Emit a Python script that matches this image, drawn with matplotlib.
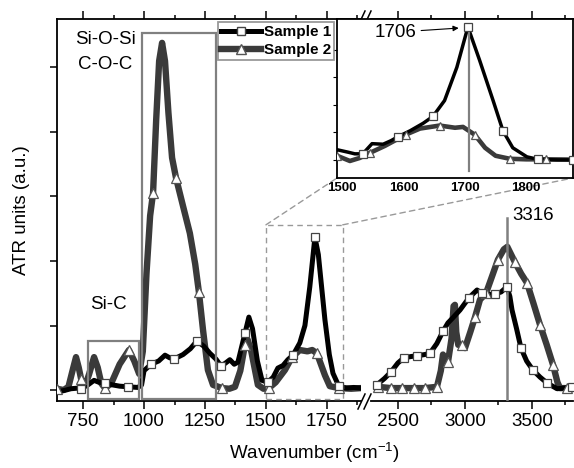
import matplotlib
matplotlib.use("Agg")
import matplotlib.pyplot as plt
from matplotlib.lines import Line2D
from matplotlib.patches import Rectangle, ConnectionPatch

plt.rcParams['font.family'] = ['Liberation Sans', 'DejaVu Sans']
plt.rcParams['mathtext.fontset'] = 'custom'
plt.rcParams['mathtext.rm'] = 'Liberation Sans'
plt.rcParams['axes.unicode_minus'] = False

# ---- data (ATR units, one y tick = 1 unit) ----
# sample 1, low wavenumber part
s1_low_w = [643, 680, 700, 730, 742, 770, 795, 815, 840, 870, 900, 934, 975, 990,
            1000, 1029, 1060, 1086, 1105, 1123, 1160, 1190, 1217, 1245, 1270, 1295,
            1316, 1335, 1352, 1370, 1385, 1414, 1430, 1445, 1465, 1484, 1508, 1530,
            1549, 1570, 1590, 1611, 1639, 1660, 1680, 1701, 1715, 1742, 1760, 1775,
            1799, 1830, 1860, 1890]
s1_low_y = [-0.03, 0.0, 0.02, 0.03, 0.02, 0.08, 0.15, 0.12, 0.11, 0.08, 0.06, 0.05, 0.04, 0.08,
            0.30, 0.40, 0.45, 0.54, 0.50, 0.48, 0.55, 0.64, 0.76, 0.68, 0.57, 0.48,
            0.37, 0.42, 0.47, 0.40, 0.43, 0.88, 1.13, 0.95, 0.45, 0.15, 0.12, 0.20,
            0.34, 0.38, 0.47, 0.54, 0.73, 1.00, 1.60, 2.37, 2.10, 1.09, 0.55, 0.26,
            0.06, 0.03, 0.04, 0.03]
s1_low_marks = [4, 8, 11, 15, 19, 22, 26, 31, 36, 41, 45, 50]

# sample 2, low wavenumber part
s2_low_w = [643, 670, 690, 710, 721, 732, 742, 760, 775, 795, 810, 825, 840, 865,
            900, 938, 960, 980, 995, 1010, 1025, 1037, 1050, 1062, 1074, 1086, 1100,
            1115, 1131, 1160, 1188, 1210, 1225, 1242, 1262, 1283, 1320, 1350, 1373,
            1395, 1414, 1425, 1440, 1467, 1490, 1512, 1540, 1578, 1607, 1639, 1670,
            1690, 1709, 1742, 1762, 1799, 1850, 1890]
s2_low_y = [0.02, 0.0, 0.05, 0.35, 0.51, 0.35, 0.17, 0.08, 0.25, 0.51, 0.35, 0.10, 0.03, 0.10,
            0.40, 0.62, 0.45, 0.25, 0.60, 1.80, 2.70, 3.05, 4.20, 5.10, 5.38, 5.10, 4.30,
            3.60, 3.29, 2.85, 2.43, 1.95, 1.52, 0.93, 0.31, 0.08, 0.03, 0.02, 0.05,
            0.30, 0.70, 0.78, 0.60, 0.08, 0.02, 0.03, 0.12, 0.31, 0.51, 0.62, 0.60,
            0.62, 0.57, 0.23, 0.06, 0.03, 0.02, 0.03]
s2_low_marks = [0, 6, 12, 15, 21, 28, 32, 36, 40, 45, 48, 52, 55]

# sample 1, high wavenumber part
s1_high_w = [2343, 2400, 2448, 2500, 2545, 2600, 2642, 2700, 2739, 2790, 2836, 2873,
             2910, 2963, 3030, 3090, 3127, 3180, 3224, 3270, 3313, 3335, 3351, 3385,
             3418, 3460, 3507, 3560, 3612, 3687, 3740, 3800]
s1_high_y = [0.08, 0.18, 0.28, 0.42, 0.50, 0.52, 0.53, 0.55, 0.57, 0.72, 0.91, 1.04,
             1.12, 1.24, 1.43, 1.55, 1.50, 1.48, 1.49, 1.52, 1.60, 1.45, 1.24, 0.95,
             0.65, 0.45, 0.31, 0.20, 0.11, 0.02, 0.03, 0.05]
s1_high_marks = [0, 2, 4, 6, 8, 10, 14, 16, 18, 20, 24, 26, 28, 31]

# sample 2, high wavenumber part
s2_high_w = [2351, 2448, 2530, 2620, 2700, 2791, 2820, 2836, 2860, 2873, 2900, 2915,
             2925, 2935, 2950, 2978, 3000, 3040, 3075, 3112, 3157, 3200, 3246, 3290,
             3316, 3373, 3420, 3463, 3510, 3560, 3610, 3657, 3690, 3709, 3761, 3806]
s2_high_y = [0.05, 0.03, 0.03, 0.03, 0.03, 0.05, 0.30, 0.55, 0.45, 0.43, 0.80, 1.30,
             1.32, 0.90, 0.70, 0.70, 0.65, 0.90, 1.13, 1.40, 1.50, 1.75, 2.02, 2.18,
             2.22, 1.98, 1.80, 1.66, 1.35, 1.01, 0.70, 0.39, 0.12, 0.03, 0.03, 0.02]
s2_high_marks = [0, 1, 2, 3, 4, 5, 9, 15, 18, 20, 22, 25, 27, 29, 31, 34]

# inset (1500-1880 cm-1)
s1_ins_w = [1492, 1510, 1521, 1534, 1549, 1567, 1580, 1591, 1611, 1632, 1648, 1667,
            1687, 1705, 1724, 1746, 1762, 1778, 1801, 1819, 1850, 1876]
s1_ins_y = [0.37, 0.28, 0.22, 0.22, 0.59, 0.57, 0.70, 0.84, 1.06, 1.33, 1.58, 2.16,
            3.37, 4.84, 3.63, 2.16, 1.06, 0.44, 0.11, 0.02, 0.0, 0.0]
s1_ins_marks = [3, 7, 10, 13, 16, 19, 21]

s2_ins_w = [1492, 1513, 1529, 1546, 1570, 1604, 1627, 1659, 1684, 1697, 1716, 1733,
            1750, 1773, 1800, 1832, 1876]
s2_ins_y = [0.15, -0.04, 0.07, 0.26, 0.51, 0.92, 1.14, 1.25, 1.17, 1.20, 0.92, 0.44,
            0.15, 0.04, 0.02, 0.02, 0.01]
s2_ins_marks = [0, 3, 5, 7, 10, 13, 15]

labels = ['Sample 1', 'Sample 2']
peak_inset = 1706
peak_oh = 3316

C1 = 'black'
C2 = '#3a3a3a'
BOX = '#808080'

W, H = 574, 468
fig = plt.figure(figsize=(W / 100, H / 100), dpi=100)


def fx(px):
    return px / W


def fy(py):
    return 1 - py / H


ytop, ybot = 19, 401
ax1 = fig.add_axes([fx(57), fy(ybot), fx(361 - 57), (ybot - ytop) / H])
ax2 = fig.add_axes([fx(371), fy(ybot), fx(573 - 371), (ybot - ytop) / H], sharey=ax1)

ax1.set_xlim(643, 1890)
ax2.set_xlim(2299, 3806)
ax1.set_ylim(-0.17, 5.75)


def draw(ax, w1, y1, m1, w2, y2, m2, lw1, lw2, ms1, ms2):
    ax.plot(w2, y2, color=C2, lw=lw2, solid_joinstyle='round', solid_capstyle='round', zorder=3)
    ax.plot(w1, y1, color=C1, lw=lw1, solid_joinstyle='round', solid_capstyle='round', zorder=4)
    ax.plot(w2, y2, ls='none', marker='^', ms=ms2, mfc='white', mec='#555555', mew=0.9,
            markevery=m2, zorder=6)
    ax.plot(w1, y1, ls='none', marker='s', ms=ms1, mfc='white', mec='#444444', mew=0.9,
            markevery=m1, zorder=6)


draw(ax1, s1_low_w, s1_low_y, s1_low_marks, s2_low_w, s2_low_y, s2_low_marks, 3.6, 4.6, 6.4, 7.4)
draw(ax2, s1_high_w, s1_high_y, s1_high_marks, s2_high_w, s2_high_y, s2_high_marks, 3.6, 4.6, 6.4, 7.4)

for ax in (ax1, ax2):
    for s in ax.spines.values():
        s.set_linewidth(1.3)
    ax.tick_params(axis='x', which='major', direction='out', length=6, width=1.1,
                   top=True, labelsize=13.5, pad=3)
    ax.tick_params(axis='x', which='minor', direction='out', length=3, width=1.1, top=True)
    ax.set_yticks(range(6))
ax1.spines['right'].set_visible(False)
ax2.spines['left'].set_visible(False)
ax2.spines['right'].set_visible(False)
ax1.set_xticks([750, 1000, 1250, 1500, 1750])
ax1.set_xticks([875, 1125, 1375, 1625, 1875], minor=True)
ax2.set_xticks([2500, 3000, 3500])
ax2.set_xticks([2750, 3250, 3750], minor=True)
ax1.tick_params(axis='y', direction='out', length=5, width=1.1, labelleft=False)
ax2.tick_params(axis='y', left=False, labelleft=False)

# annotation boxes
ax1.add_patch(Rectangle((770, -0.14), 210, 0.90, fill=False, ec=BOX, lw=1.6, zorder=5))
ax1.add_patch(Rectangle((992, -0.14), 303, 5.67, fill=False, ec=BOX, lw=1.6, zorder=5))
ax1.add_patch(Rectangle((1500, -0.14), 315, 2.70, fill=False, ec='#999999', lw=1.0,
                        ls=(0, (4, 3)), zorder=5))
ax1.text(842, 5.43, 'Si-O-Si', ha='center', va='center', fontsize=13.5)
ax1.text(842, 5.04, 'C-O-C', ha='center', va='center', fontsize=13.5)
ax1.text(852, 1.32, 'Si-C', ha='center', va='center', fontsize=13.5)

ax2.plot([peak_oh, peak_oh], [-0.17, 2.67], color=BOX, lw=1.8, zorder=5)
ax2.text(peak_oh + 40, 2.71, str(peak_oh), ha='left', va='center', fontsize=13.5)

# break marks
for x0 in (358, 364):
    for yb in (409, 26):
        fig.add_artist(Line2D([fx(x0), fx(x0 + 7)], [fy(yb), fy(yb - 15)], color='black', lw=1.1))

fig.text(fx(314), fy(453), 'Wavenumber (cm$^{-1}$)', ha='center', va='center', fontsize=13.5)
fig.text(fx(22), fy(210), 'ATR units (a.u.)', ha='center', va='center', rotation=90, fontsize=13.5)

# legend
handles = [Line2D([], [], color=C1, lw=3.6, marker='s', ms=6.4, mfc='white', mec='#444444'),
           Line2D([], [], color=C2, lw=4.6, marker='^', ms=7.4, mfc='white', mec='#555555')]
leg = fig.legend(handles, labels, loc='upper left', bbox_to_anchor=(fx(218), fy(22)),
                 bbox_transform=fig.transFigure, borderaxespad=0, frameon=True, fancybox=False,
                 edgecolor=BOX, prop={'weight': 'bold', 'size': 11}, handlelength=2.6,
                 handletextpad=0.2, labelspacing=0.25, borderpad=0.2)
leg.get_frame().set_linewidth(1.3)
leg.set_zorder(10)

# inset
axi = fig.add_axes([fx(337), fy(178), fx(573 - 337), (178 - 19) / H])
axi.set_zorder(8)
axi.set_xlim(1492, 1876)
axi.set_ylim(-0.66, 5.13)
draw(axi, s1_ins_w, s1_ins_y, s1_ins_marks, s2_ins_w, s2_ins_y, s2_ins_marks, 2.5, 3.3, 5.2, 6.2)
axi.plot([peak_inset, peak_inset], [-0.4, 4.9], color=BOX, lw=1.6, zorder=5)
axi.annotate(str(peak_inset), xy=(1690, 4.8), xytext=(1554, 4.65), fontsize=13.5,
             ha='left', va='center',
             arrowprops=dict(arrowstyle='-|>', color='black', lw=0.8, mutation_scale=8,
                             shrinkA=1, shrinkB=0))
axi.set_xticks([1500, 1600, 1700, 1800])
axi.set_yticks(range(5))
axi.tick_params(axis='x', length=0, pad=3, labelsize=9.5)
for t in axi.get_xticklabels():
    t.set_fontweight('bold')
axi.tick_params(axis='y', direction='out', length=3, labelleft=False)
for s in axi.spines.values():
    s.set_linewidth(1.3)

for xa, xb in ((1500, 1492), (1815, 1876)):
    fig.add_artist(ConnectionPatch(xyA=(xa, 2.56), coordsA=ax1.transData,
                                   xyB=(xb, -0.66), coordsB=axi.transData,
                                   color='#999999', lw=1.0, ls=(0, (4, 3))))

fig.savefig('out.png', dpi=100)
